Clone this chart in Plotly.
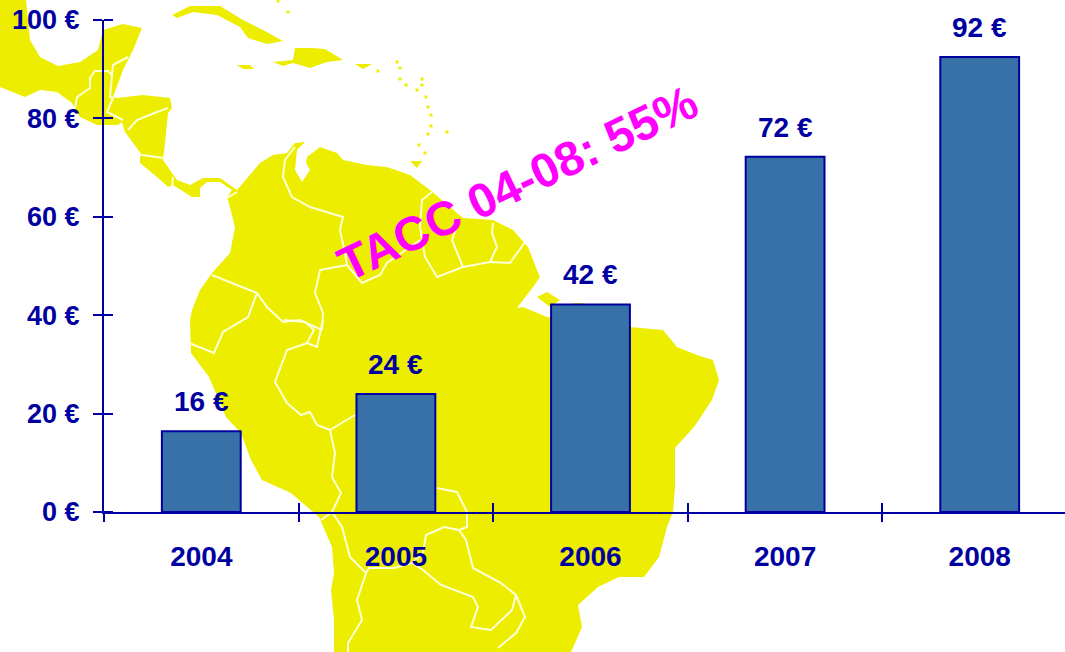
import plotly.graph_objects as go

# ---- chart data ----
years = ["2004", "2005", "2006", "2007", "2008"]
values = [16.4, 24, 42.2, 72.2, 92.5]
value_labels = ["16 €", "24 €", "42 €", "72 €", "92 €"]
y_ticks = [0, 20, 40, 60, 80, 100]
y_tick_labels = ["0 €", "20 €", "40 €", "60 €", "80 €", "100 €"]
cagr_text = "TACC 04-08: 55%"

# ---- decorative background map, traced in page pixels ----
mainland = [(0,0),(26,0),(28,20),(30,40),(40,57),(58,66),(80,62),(98,50),(103,30),(123,24),(142,28),(133,50),(123,70),(113,97),
 (117,98),(143,95),(170,98),(172,108),(168,113),(165,143),(163,160),(172,173),(177,180),(190,185),(203,178),(220,178),(237,190),
 (260,163),(273,155),(287,153),(295,143),(305,142),(297,150),(295,170),(302,182),(310,170),(306,163),(307,157),(320,147),(337,153),
 (343,160),(367,165),(387,167),(410,175),(430,190),(463,218),(493,220),(513,230),(528,247),(537,270),(540,277),(533,287),(517,308),
 (523,307),(547,317),(600,325),(630,327),(663,330),(677,347),(697,355),(713,360),(719,380),(712,400),(694,427),(675,448),(675,487),
 (673,512),(667,527),(659,557),(644,577),(619,577),(598,587),(578,605),(582,627),(571,652),(334,652),(334,620),(331,590),(334,573),
 (332,547),(319,517),(291,493),(262,480),(251,460),(241,433),(226,417),(209,377),(191,353),(190,320),(192,310),(200,290),(212,273),
 (230,253),(235,227),(228,200),(227,198),(232,190),(220,182),(207,182),(200,188),(200,197),(192,197),(173,185),(168,187),(157,177),
 (140,163),(140,157),(142,155),(125,132),(122,122),(118,125),(97,125),(80,117),(72,103),(57,92),(40,90),(25,97),(0,87)]
islands = [
 [(172,15),(190,6),(220,6),(243,20),(263,30),(283,41),(267,44),(248,38),(240,27),(217,15),(193,12),(177,18)],
 [(237,65),(250,65),(254,69),(243,69)],
 [(273,62),(293,60),(295,48),(312,48),(325,49),(343,60),(327,62),(310,68),(293,63),(283,66)],
 [(355,64),(372,64),(363,69)],
 [(410,161),(422,161),(417,168)],
 [(537,297),(547,292),(560,300),(550,307)],
 [(573,303),(583,303),(583,306),(573,306)],
]
dots = [(278,1),(288,12),(378,71),(397,62),(400,68),(400,79),(406,85),(422,79),(422,85),(417,90),(426,97),(428,107),(431,115),
 (431,126),(428,134),(447,132),(419,145),(425,153)]
borders = [
 [(128,57),(113,65),(112,75),(108,71),(95,71),(90,78),(90,88),(77,97),(75,108)],
 [(112,75),(110,97),(113,98),(107,112),(123,120)],
 [(168,108),(157,112),(137,120),(128,130)],
 [(142,155),(163,158)],
 [(173,177),(172,187)],
 [(237,192),(227,198)],
 [(295,147),(285,160),(283,177),(292,197),(310,207),(343,217),(340,230),(345,253),(347,265),(320,270),(315,293),(323,313),(322,330)],
 [(347,265),(362,283),(380,275),(387,263),(420,240)],
 [(432,192),(422,200),(420,227),(425,257),(437,277),(463,267),(490,262),(510,263),(525,242)],
 [(458,223),(452,240),(463,267)],
 [(493,223),(492,233),(497,247),(490,262)],
 [(212,275),(257,293),(267,307),(283,322),(300,320),(322,330)],
 [(257,293),(248,317),(223,332),(214,353),(189,343)],
 [(323,320),(317,347),(307,343),(287,350),(275,382),(287,403),(301,415),(310,412),(317,425),(330,430),(355,415)],
 [(284,320),(305,322),(314,330),(307,343)],
 [(330,430),(335,453),(332,477),(341,493),(332,512),(321,520)],
 [(332,512),(342,527),(350,557),(366,573),(357,600),(362,620),(348,643),(348,652)],
 [(366,573),(369,568),(394,568),(412,563),(423,570),(441,585),(473,597),(478,607),(471,627),(491,630),(512,610),(516,595),
  (501,583),(473,568),(466,540),(459,530),(444,527),(426,535),(423,553),(412,563)],
 [(437,488),(457,492),(467,512),(467,527),(459,530)],
 [(516,595),(525,617),(516,633),(498,648)],
]

W, H = 1065, 652
L, R, T, B = 104, 0, 20, 140
NAVY = "#0000A0"
YELLOW = "#EDED00"
PW, PH = W - L - R, H - T - B

def px(x, y):
    return (x - L) / PW, 1 - (y - T) / PH

def path(points, close):
    coords = [px(*p) for p in points]
    s = "M" + " L".join(f"{a:.5f},{b:.5f}" for a, b in coords)
    return s + (" Z" if close else "")

shapes = []
for poly in [mainland] + islands:
    shapes.append(dict(type="path", path=path(poly, True), xref="paper", yref="paper", layer="below",
                       fillcolor=YELLOW, line=dict(width=0)))
for x, y in dots:
    shapes.append(dict(type="path", path=path([(x-1.5,y-1.5),(x+1.5,y-1.5),(x+1.5,y+1.5),(x-1.5,y+1.5)], True),
                       xref="paper", yref="paper", layer="below", fillcolor=YELLOW, line=dict(width=0)))
for line in borders:
    shapes.append(dict(type="path", path=path(line, False), xref="paper", yref="paper", layer="below",
                       line=dict(color="#FFFFD8", width=2)))

positions = list(range(len(years)))
boundaries = [p - 0.5 for p in positions]
family = "Liberation Sans, Arial, sans-serif"
y_font = dict(family=family, size=27, color=NAVY, weight="bold")
x_font = dict(family=family, size=28, color=NAVY, weight="bold")

fig = go.Figure()
fig.add_trace(go.Bar(x=positions, y=values, width=0.405,
                     marker=dict(color="#3870A8", line=dict(color=NAVY, width=2)), showlegend=False))
# second, empty trace carries the overlay axis that draws the category separators
fig.add_trace(go.Scatter(x=[], y=[], xaxis="x2", showlegend=False))

annotations = [dict(x=p, y=v, text=f"<b>{t}</b>", showarrow=False, yanchor="bottom", yshift=12,
                    font=dict(family=family, size=28, color=NAVY)) for p, v, t in zip(positions, values, value_labels)]
annotations.append(dict(xref="paper", yref="paper", x=px(517, 0)[0], y=px(0, 183)[1], text=f"<b>{cagr_text}</b>",
                        showarrow=False, textangle=-25.5, xanchor="center", yanchor="middle",
                        font=dict(family=family, size=48, color="#FF00FF")))

x_range = [-0.5, (W - L) / 194.6 - 0.5]
fig.update_layout(
    width=W, height=H, autosize=False,
    margin=dict(l=L, r=R, t=T, b=B, pad=0),
    paper_bgcolor="white", plot_bgcolor="rgba(0,0,0,0)",
    showlegend=False, shapes=shapes, annotations=annotations,
    xaxis=dict(range=x_range, tickmode="array", tickvals=positions, ticktext=years, ticks="",
               tickfont=x_font, showgrid=False, zeroline=False, showline=True, linecolor=NAVY, linewidth=2,
               ticklabelstandoff=18),
    xaxis2=dict(range=x_range, overlaying="x", anchor="y", side="bottom", tickmode="array", tickvals=boundaries,
                ticktext=[""] * len(boundaries), ticks="outside", ticklen=9, tickwidth=2, tickcolor=NAVY,
                minor=dict(ticks="inside", ticklen=9, tickwidth=2, tickcolor=NAVY, tickmode="array",
                           tickvals=[b + 1e-6 for b in boundaries[1:]]),
                showgrid=False, zeroline=False),
    yaxis=dict(range=[0, 100], tickmode="array", tickvals=y_ticks, ticktext=y_tick_labels, ticks="outside", ticklen=9,
               tickwidth=2, tickcolor=NAVY, tickfont=y_font, showgrid=False, zeroline=False, showline=True,
               linecolor=NAVY, linewidth=2, ticklabelstandoff=8,
               minor=dict(ticks="inside", ticklen=9, tickwidth=2, tickcolor=NAVY, tickmode="array",
                          tickvals=[t - 1e-6 for t in y_ticks])),
)
fig.write_html("out.html", config=dict(displayModeBar=False),
               post_script="document.body.style.margin='0';document.documentElement.style.overflow='hidden';")
